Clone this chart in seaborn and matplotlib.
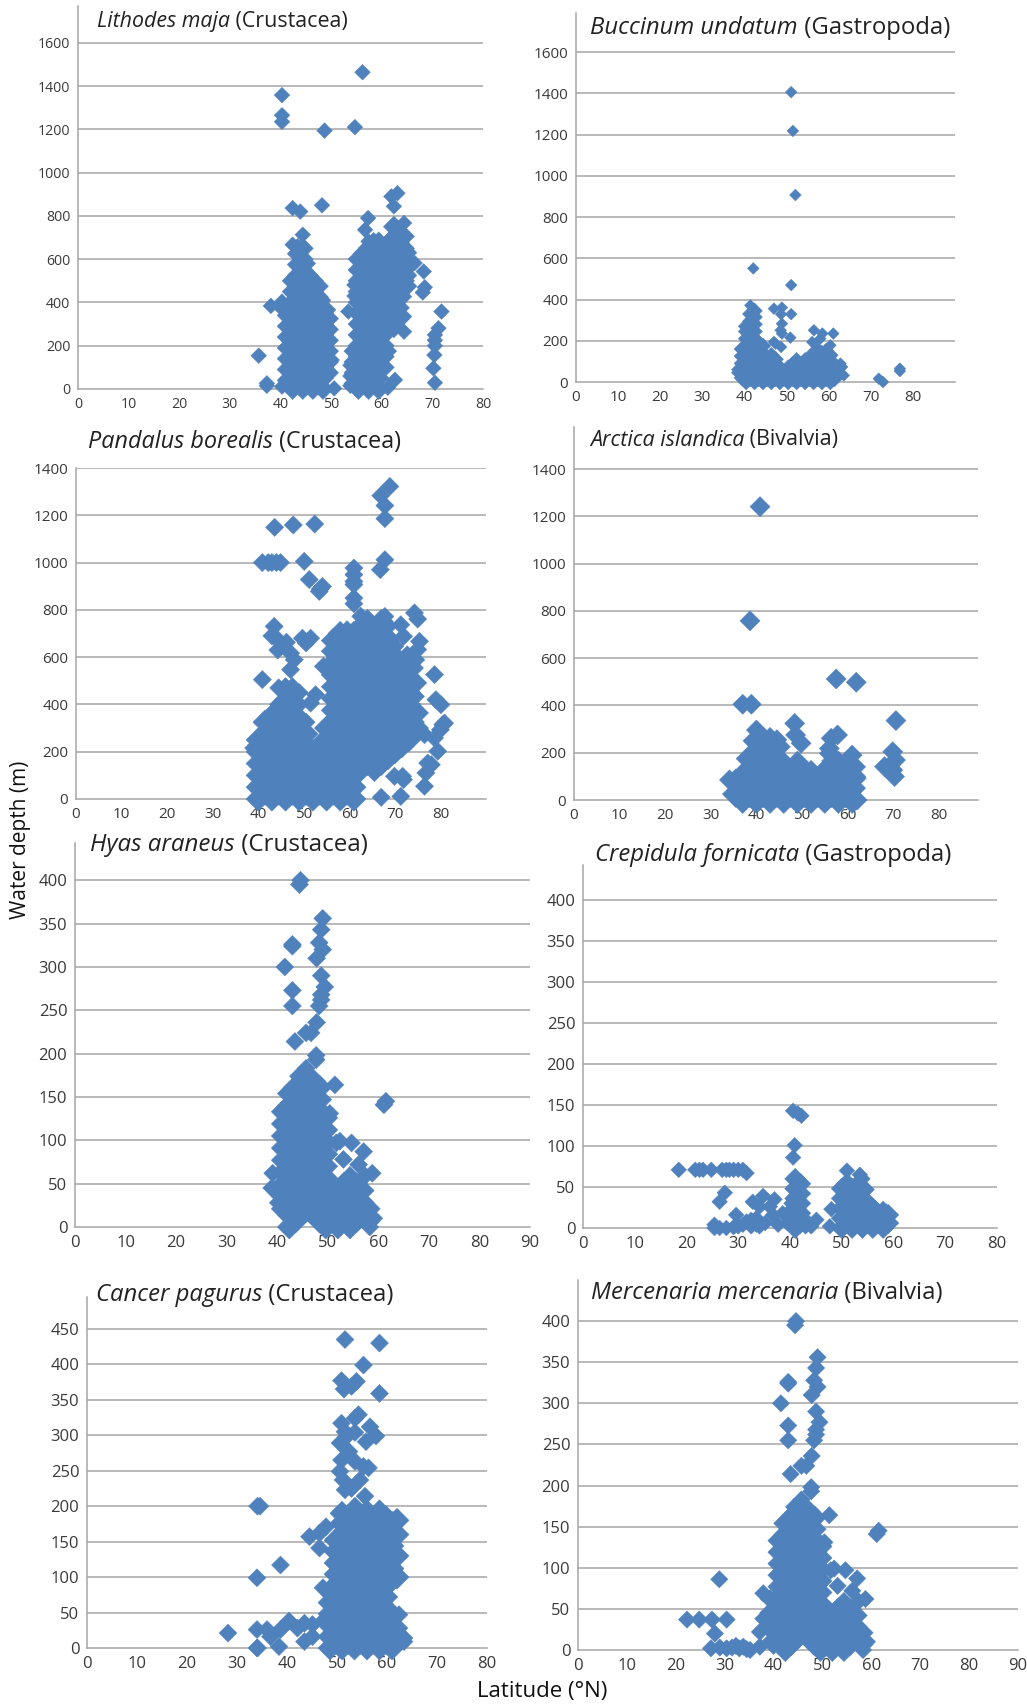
import matplotlib
matplotlib.use("Agg")
import matplotlib.pyplot as plt
import pandas as pd
import seaborn as sns

sns.set_style("white")
plt.rcParams["font.family"] = ["Open Sans", "DejaVu Sans"]

BLUE = "#4F81BD"
GRID = "#A6A6A6"
INK = "#3A3A3A"
W, H = 1027, 1705

# Records as (latitude °N, [water depths m]).
# *_CLOUD holds the solid, overlapping cores; the plain lists hold single records.
LITHODES_CLOUD = [
    (41.4, [40, 90, 140, 190, 240, 290, 340]),
    (42.4, [0, 50, 100, 150, 200, 250, 300, 350, 400, 450, 500]),
    (43.4, [25, 75, 125, 175, 225, 275, 325, 375, 425, 475, 525, 575, 625]),
    (44.4, [0, 50, 100, 150, 200, 250, 300, 350, 400, 450, 500, 550, 600, 650]),
    (45.4, [25, 75, 125, 175, 225, 275, 325, 375, 425, 475, 525]),
    (46.4, [0, 50, 100, 150, 200, 250, 300, 350, 400, 450, 500]),
    (47.4, [25, 75, 125, 175, 225, 275, 325, 375, 425, 475]),
    (48.4, [0, 50, 100, 150, 200, 250, 300, 350]),
    (49.4, [75, 125, 175, 225, 275, 325]),
    (54.6, [25, 75, 125, 175]),
    (55.4, [0, 50, 100, 150, 200, 250, 300, 350, 400, 450, 500, 550, 600]),
    (56.4, [25, 75, 125, 175, 225, 275, 325, 375, 425, 475, 525, 575, 625]),
    (57.4, [0, 50, 100, 150, 200, 250, 300, 350, 400, 450, 500, 550, 600, 650]),
    (58.4, [25, 75, 125, 175, 225, 275, 325, 375, 425, 475, 525, 575, 625, 675]),
    (59.4, [0, 50, 100, 150, 200, 250, 300, 350, 400, 450, 500, 550, 600, 650]),
    (60.4, [100, 150, 200, 250, 300, 350, 400, 450, 500, 550, 600, 650]),
    (61.4, [325, 375, 425, 475, 525, 575, 625, 675]),
    (62.4, [300, 350, 400, 450, 500, 550, 600, 650, 700, 750]),
    (63.4, [325, 375, 425, 475, 525, 575, 625, 675, 725]),
    (64.4, [500, 550, 600, 650, 705]),
]
LITHODES = [
    (35.7, [154]), (37.3, [26, 15]), (38.1, [384]),
    (40.3, [1358, 1265, 1235, 404, 370, 11]),
    (42.4, [667, 836]), (43.4, [660]), (43.9, [820]), (44.4, [713]), (45.4, [580]),
    (48.2, [849]), (48.4, [410]), (48.7, [1194]), (49.4, [366]),
    (50.1, [134]), (50.6, [3]), (53.4, [358]), (53.8, [15, 60, 110]),
    (54.6, [430, 481]), (54.7, [1210]), (56.2, [1464]), (56.7, [736]), (57.3, [790]),
    (57.4, [682]), (59.4, [690]), (61.2, [6]), (61.4, [175]), (61.9, [890]),
    (62.4, [273, 844]), (62.6, [42]), (63.1, [905]),
    (64.4, [265, 335, 427, 767]), (65.4, [475, 525, 630]), (66.5, [582]),
    (68.1, [446]), (68.3, [543]), (68.5, [470]),
    (70.2, [96]), (70.4, [157]), (70.5, [29, 200, 225, 250]),
    (71.2, [281]), (71.8, [358]),
]

BUCCINUM_CLOUD = [
    (39.4, [20, 55, 90, 125, 160]),
    (40.4, [0, 35, 70, 105, 140, 175, 210, 245, 270]),
    (41.4, [15, 50, 85, 120, 155, 190, 225, 260, 295, 330]),
    (42.4, [0, 35, 70, 105, 140, 175, 210, 245, 280, 315, 345]),
    (43.4, [15, 50, 85, 120, 155, 190]),
    (44.4, [0, 35, 70, 105, 140, 175]),
    (45.4, [15, 50, 85]),
    (46.4, [0, 35, 70, 105, 130]),
    (47.4, [15, 50, 85, 110]),
    (48.4, [0, 35, 70]),
    (49.4, [15, 50]),
    (50.4, [0, 35, 70]),
    (51.4, [15, 50, 85]),
    (52.4, [0, 35, 70, 105]),
    (53.4, [15, 50, 85]),
    (54.4, [0, 35, 70, 105]),
    (55.4, [15, 50, 85]),
    (56.4, [0, 35, 70, 105, 140]),
    (57.4, [15, 50, 85, 120, 155]),
    (58.4, [0, 35, 70, 105, 140]),
    (59.4, [15, 50, 85, 120, 150]),
    (60.4, [0, 35, 70, 105, 130]),
    (61.4, [15, 50]),
]
BUCCINUM = [
    (38.3, [45, 60]), (41.4, [372]), (42.1, [551]),
    (47.0, [356, 194]), (47.4, [186]),
    (48.6, [251]), (48.7, [329, 170]), (48.9, [361, 283, 235]),
    (50.9, [215]), (51.1, [1406, 470, 329]), (51.5, [1218]), (52.1, [907]),
    (56.1, [194]), (56.5, [251]), (58.0, [210]), (58.5, [235]),
    (60.4, [178]), (61.1, [235]),
    (62.8, [89]), (63.2, [73]), (63.6, [32]),
    (71.9, [16]), (72.9, [0]), (76.9, [65, 53]),
]

PANDALUS_CLOUD = [
    (40.0, [0, 50, 100, 150, 200, 250]),
    (41.5, [25, 75, 125, 175, 225, 275, 325]),
    (43.0, [0, 50, 100, 150, 200, 250, 300, 350]),
    (44.5, [25, 75, 125, 175, 225, 275]),
    (46.0, [0, 50, 100, 150, 200, 250]),
    (47.5, [25, 75, 125, 175, 225, 275]),
    (49.0, [0, 50, 100, 150, 200, 250]),
    (50.5, [25, 75, 125, 175, 225, 275]),
    (52.0, [0, 50, 100, 150, 200]),
    (53.5, [25, 75, 125, 175, 225]),
    (55.0, [0, 50, 100, 150, 200, 250, 300]),
    (56.5, [25, 75, 125, 175, 225, 275, 325, 375, 425, 475, 525, 575, 625, 670]),
    (58.0, [0, 50, 100, 150, 200, 250, 300, 350, 400, 450, 500, 550, 600, 650, 700]),
    (59.5, [25, 75, 125, 175, 225, 275, 325, 375, 425, 475, 525, 575, 625, 675]),
    (61.0, [0, 50, 100, 150, 200, 250, 300, 350, 400, 450, 500, 550, 600, 650, 700]),
    (62.5, [125, 175, 225, 275, 325, 375, 425, 475, 525, 575, 625, 675, 725]),
    (64.0, [150, 200, 250, 300, 350, 400, 450, 500, 550, 600, 650, 700, 750]),
    (65.5, [125, 175, 225, 275, 325, 375, 425, 475, 525, 575, 625, 675]),
    (67.0, [150, 200, 250, 300, 350, 400, 450, 500, 550, 600, 650, 700, 750]),
    (68.5, [175, 225, 275, 325, 375, 425, 475, 525, 575, 625, 675]),
    (70.0, [200, 250, 300, 350, 400, 450, 500, 550, 600]),
    (71.5, [225, 275, 325, 375, 425, 475, 525, 575]),
    (73.0, [250, 300, 350, 400, 450, 500]),
]
PANDALUS = [
    (39.0, [216]), (40.9, [505, 1000]), (42.2, [1000]),
    (43.0, [690, 1000]), (43.5, [730]), (43.6, [1149]), (44.0, [680, 1000]), (44.3, [630]),
    (44.5, [400, 470]), (44.9, [1000]),
    (46.0, [325, 375, 425, 475]), (46.2, [663]), (47.1, [617, 547]),
    (47.5, [325, 375, 425, 475]), (47.7, [1159]), (47.9, [589]),
    (49.0, [300, 350, 400, 450]), (49.7, [680]), (50.1, [1005]),
    (50.5, [325, 660]), (51.2, [928]), (51.5, [406, 680]),
    (52.4, [1163]), (52.6, [441]), (53.4, [878]), (53.6, [888]), (54.1, [899]), (54.3, [561]),
    (59.5, [716]), (61.0, [826, 850, 907, 920, 949, 977]),
    (62.5, [773]), (65.5, [710]),
    (66.8, [970]), (66.9, [1283]), (67.0, [7]),
    (67.8, [1241, 1186, 1012, 772]),
    (68.5, [730]), (68.9, [1322]), (69.9, [96]),
    (70.0, [646]), (71.3, [737, 11]), (71.7, [96]), (71.9, [688, 82]), (72.7, [610]),
    (74.3, [787, 554]), (74.5, [275, 325, 378, 434]), (74.6, [589]),
    (75.0, [761, 632, 491]), (75.4, [667, 364, 300]),
    (76.5, [272, 54]), (76.8, [110]), (77.2, [152]), (78.0, [145]),
    (78.7, [526, 258]), (79.0, [420]), (79.4, [202]),
    (80.0, [293]), (80.1, [399]), (80.5, [314]), (80.9, [321]),
]

ARCTICA_CLOUD = [
    (35.5, [25, 75]),
    (37.0, [0, 50, 100]),
    (38.5, [25, 75, 125, 175]),
    (40.0, [0, 50, 100, 150, 200, 250]),
    (41.5, [25, 75, 125, 175, 225]),
    (43.0, [0, 50, 100, 150, 200, 250]),
    (44.5, [25, 75, 125, 175, 225]),
    (46.0, [0, 50, 100]),
    (47.5, [25, 75]),
    (49.0, [0, 50, 100, 150]),
    (50.5, [25, 75]),
    (52.0, [0, 50, 100]),
    (53.5, [25, 75]),
    (55.0, [0, 50, 100]),
    (56.5, [25, 75, 125]),
    (58.0, [0, 50, 100, 150]),
    (59.5, [25, 75, 125]),
    (61.0, [0, 50, 100, 140]),
]
ARCTICA = [
    (34.1, [85]), (37.0, [405]), (38.6, [758]), (38.9, [405]),
    (40.0, [296]), (40.8, [1241]), (41.5, [265]), (44.5, [255]),
    (47.5, [115]), (48.4, [324]), (48.6, [275]), (49.8, [240]), (50.5, [110]),
    (52.0, [125]), (55.0, [130]), (56.0, [197, 218]), (56.4, [261]), (56.5, [165]),
    (57.5, [512]), (57.8, [275]), (61.0, [190]), (61.9, [498, 92]), (62.1, [0]),
    (68.1, [141]), (69.9, [204, 127]), (70.3, [99]), (70.5, [169]), (70.6, [336]),
]

HYAS_CLOUD = [
    (41.2, [21, 35, 49, 63, 77, 91, 105, 119, 133]),
    (42.4, [0, 14, 28, 42, 56, 70, 84, 98, 112, 126, 140, 154]),
    (43.6, [7, 21, 35, 49, 63, 77, 91, 105, 119, 133, 147, 161]),
    (44.8, [14, 28, 42, 56, 70, 84, 98, 112, 126, 140, 154, 168]),
    (46.0, [21, 35, 49, 63, 77, 91, 105, 119, 133, 147, 161]),
    (47.2, [14, 28, 42, 56, 70, 84, 98, 112, 126, 140, 154, 168]),
    (48.4, [7, 21, 35, 49, 63, 77, 91, 105, 119, 133, 147, 161]),
    (49.6, [0, 14, 28, 42, 56, 70, 84, 98, 112, 126]),
    (50.8, [7, 21, 35, 49]),
    (52.0, [0, 14, 28, 42]),
    (53.2, [7, 21, 35, 49]),
    (54.4, [0, 14, 28, 42, 56]),
    (55.6, [7, 21, 35, 49]),
    (56.8, [14, 28, 42]),
    (58.0, [7, 21]),
]
HYAS = [
    (38.9, [45]), (39.1, [62]), (40.2, [28, 42]), (41.5, [300]),
    (43.0, [326, 324, 273, 255]), (43.5, [214]),
    (44.2, [174]), (44.4, [395]), (44.6, [400]),
    (45.7, [224, 183]), (46.7, [224]),
    (47.7, [198, 193]), (47.8, [310, 236]), (48.3, [328, 255]),
    (48.7, [343, 290, 268, 262]), (49.0, [356, 320]), (49.4, [277]),
    (50.4, [131]), (51.4, [164]), (51.7, [97]), (52.4, [99]), (53.1, [78]),
    (54.7, [97]), (56.1, [72]), (57.1, [87]), (57.4, [59]),
    (58.3, [0]), (58.8, [62]), (59.1, [10]),
    (61.1, [141]), (61.5, [145]),
]

CREPIDULA_CLOUD = [
    (41.0, [0, 12, 24, 36, 48, 60]),
    (42.0, [6, 18, 30, 42, 54]),
    (50.0, [0, 12, 24, 36, 48]),
    (51.0, [6, 18, 30, 42, 54]),
    (52.0, [0, 12, 24, 36, 48]),
    (53.0, [6, 18, 30, 42, 52]),
    (54.0, [0, 12, 24, 36]),
    (55.0, [6, 18, 30]),
    (56.0, [0, 12, 24]),
    (57.0, [6, 18]),
    (58.0, [0, 12, 20]),
    (59.0, [6, 16]),
]
CREPIDULA = [
    (18.5, [71]), (21.7, [71]), (22.5, [71]), (23.2, [71]), (24.8, [71]),
    (25.4, [0, 4]), (26.4, [32, 0]), (26.9, [71]), (27.4, [43]),
    (27.7, [71, 0]), (28.3, [71]), (29.1, [71, 1]), (29.6, [16]),
    (30.0, [71, 2]), (30.9, [71, 4]), (31.6, [67, 8]),
    (32.5, [2, 10]), (32.8, [32]), (33.5, [4, 12]), (34.1, [26, 2]),
    (34.8, [39]), (35.2, [6]), (36.1, [26]), (36.7, [16]), (37.0, [35]),
    (37.7, [4]), (38.6, [18]), (39.5, [6]), (40.3, [12, 30]),
    (40.6, [143, 86]), (40.9, [101]), (41.5, [140]), (42.2, [137]),
    (43.0, [2, 10]), (44.1, [2]), (45.1, [10]), (47.7, [2]), (48.0, [23]),
    (51.0, [70]), (53.5, [65]), (54.0, [60]), (54.8, [47]), (58.6, [20]),
]

CANCER_CLOUD = [
    (48.6, [0, 16, 32, 48, 64, 80]),
    (49.8, [8, 24, 40, 56, 72, 88, 104, 120, 136, 152]),
    (51.0, [0, 16, 32, 48, 64, 80, 96, 112, 128, 144, 160, 176, 190]),
    (52.25, [8, 24, 40, 56, 72, 88, 104, 120, 136, 152, 168, 184]),
    (53.5, [0, 16, 32, 48, 64, 80, 96, 112, 128, 144, 160, 176, 192]),
    (54.75, [8, 24, 40, 56, 72, 88, 104, 120, 136, 152, 168, 184]),
    (56.0, [0, 16, 32, 48, 64, 80, 96, 112, 128, 144, 160, 176, 192]),
    (57.25, [8, 24, 40, 56, 72, 88, 104, 120, 136, 152, 168, 184]),
    (58.5, [0, 16, 32, 48, 64, 80, 96, 112, 128, 144, 160, 176, 192]),
    (59.75, [8, 24, 40, 56, 72, 88, 104, 120, 136, 152, 168, 184]),
    (61.0, [0, 16, 32, 96, 112, 128, 144, 160, 176]),
    (62.0, [100, 130, 160, 180]),
]
CANCER = [
    (28.2, [21]), (34.0, [99, 26, 0]), (34.1, [200, 0]), (34.6, [200]),
    (36.0, [26]), (36.7, [16]), (38.4, [2]), (38.7, [117, 26]),
    (40.4, [38]), (42.1, [28]), (43.5, [35, 9]), (44.5, [157]),
    (45.1, [33, 16]), (46.5, [162, 141]), (47.2, [85]), (47.5, [40]), (47.8, [171]),
    (50.6, [289, 249]), (50.9, [377, 317, 265]),
    (51.2, [237]), (51.4, [365]), (51.6, [435, 305, 223]), (51.9, [298]),
    (52.4, [277]), (52.9, [369, 225]),
    (53.6, [324, 304, 263, 200]), (53.9, [376]), (54.3, [329]), (54.6, [237]),
    (55.3, [399, 256]), (55.6, [214]), (55.8, [291]),
    (56.3, [254]), (56.6, [312]), (57.8, [299]), (58.5, [359, 430]),
    (62.4, [47, 28]), (63.4, [14, 9]),
]

# the Mercenaria panel repeats the Hyas cloud, plus these southern records
MERCENARIA_SOUTH = [
    (22.3, [37]), (24.8, [37]), (27.2, [2]), (27.4, [37]), (28.0, [20]),
    (28.9, [86]), (29.0, [3]), (30.4, [37, 2]), (31.5, [3]), (32.3, [5]),
    (33.0, [2]), (33.8, [4]), (34.5, [1]), (35.2, [0]),
    (37.2, [4, 22]), (37.9, [38, 69]), (38.6, [28]), (39.3, [63, 10, 35]),
    (40.0, [5, 20, 35, 50]),
]


def to_frame(cloud, records):
    rows = [(lat, d, "cloud") for lat, depths in cloud for d in depths]
    rows += [(lat, d, "record") for lat, depths in records for d in depths]
    return pd.DataFrame(rows, columns=["lat", "depth", "kind"])


# species, class, cloud, records, axes box in px (left, right, bottom, top),
# xmax, ymax, top y tick, y step, last labelled x tick, marker area,
# title anchor px, title size, tick label size
PANELS = [
    ("Lithodes maja", "Crustacea", LITHODES_CLOUD, LITHODES, (78, 483, 389, 6),
     80, 1770, 1600, 200, 80, 64, (97, 22), 15.4, 10.2),
    ("Buccinum undatum", "Gastropoda", BUCCINUM_CLOUD, BUCCINUM, (576, 955, 382, 13),
     90, 1790, 1600, 200, 80, 36, (590, 28), 17.2, 11),
    ("Pandalus borealis", "Crustacea", PANDALUS_CLOUD, PANDALUS, (76, 486, 799, 468),
     90, 1400, 1400, 200, 80, 86, (88, 442), 16.8, 11),
    ("Arctica islandica", "Bivalvia", ARCTICA_CLOUD, ARCTICA, (574, 978, 800, 427),
     88.6, 1578, 1400, 200, 80, 105, (590, 440), 15.5, 11),
    ("Hyas araneus", "Crustacea", HYAS_CLOUD, HYAS, (75, 530, 1227, 843),
     90, 443, 400, 50, 90, 84, (90, 845), 17.4, 12),
    ("Crepidula fornicata", "Gastropoda", CREPIDULA_CLOUD, CREPIDULA, (583, 997, 1228, 865),
     80, 443, 400, 50, 80, 64, (595, 855), 17.2, 12),
    ("Cancer pagurus", "Crustacea", CANCER_CLOUD, CANCER, (87, 487, 1648, 1297),
     80, 495, 450, 50, 80, 84, (96, 1295), 17.2, 12),
    ("Mercenaria mercenaria", "Bivalvia", HYAS_CLOUD, HYAS + MERCENARIA_SOUTH,
     (578, 1018, 1650, 1280), 90, 450, 400, 50, 90, 78, (591, 1293), 17.2, 12),
]

fig = plt.figure(figsize=(W / 100, H / 100), dpi=100)

for (species, cls, cloud, records, box, xmax, ymax, ytop, ystep, xlab, s,
     (tx, ty), title_size, tick_size) in PANELS:
    x0, x1, yb, yt = box
    ax = fig.add_axes([x0 / W, 1 - yb / H, (x1 - x0) / W, (yb - yt) / H])
    sns.scatterplot(data=to_frame(cloud, records), x="lat", y="depth", ax=ax,
                    size="kind", sizes={"cloud": s * 1.8, "record": s}, marker="D",
                    color=BLUE, edgecolor=BLUE, linewidth=0.3, clip_on=False,
                    legend=False, zorder=3)
    ax.set_xlim(0, xmax)
    ax.set_ylim(0, ymax)

    yticks = list(range(0, ytop + 1, ystep))
    ax.set_yticks(yticks)
    for y in yticks[1:]:
        ax.axhline(y, color=GRID, lw=1.1, zorder=0.5)

    xticks = [t for t in range(0, 91, 10) if t <= xmax]
    ax.set_xticks(xticks)
    ax.set_xticklabels([str(t) if t <= xlab else "" for t in xticks])

    for side in ("top", "right"):
        ax.spines[side].set_visible(False)
    for side in ("left", "bottom"):
        ax.spines[side].set_color(GRID)
        ax.spines[side].set_linewidth(1.1)
        ax.spines[side].set_zorder(0.6)
    ax.tick_params(axis="both", colors=GRID, labelcolor=INK, labelsize=tick_size,
                   length=3.5, width=1.1, pad=2, direction="out")
    ax.set_xlabel("")
    ax.set_ylabel("")
    ax.patch.set_alpha(0)

    t1 = fig.text(tx / W, 1 - ty / H, species, fontsize=title_size, style="italic",
                  ha="left", va="center", color="#222222")
    ax.annotate(f" ({cls})", xy=(1, 0), xycoords=t1, fontsize=title_size, ha="left",
                va="bottom", color="#222222", annotation_clip=False)

fig.text(21 / W, 1 - 840 / H, "Water depth (m)", rotation=90, ha="center", va="center",
         fontsize=15, color="#111111")
fig.text(542 / W, 1 - 1692 / H, "Latitude (°N)", ha="center", va="center",
         fontsize=16, color="#111111")

fig.savefig("out.png", dpi=100, facecolor="white")
